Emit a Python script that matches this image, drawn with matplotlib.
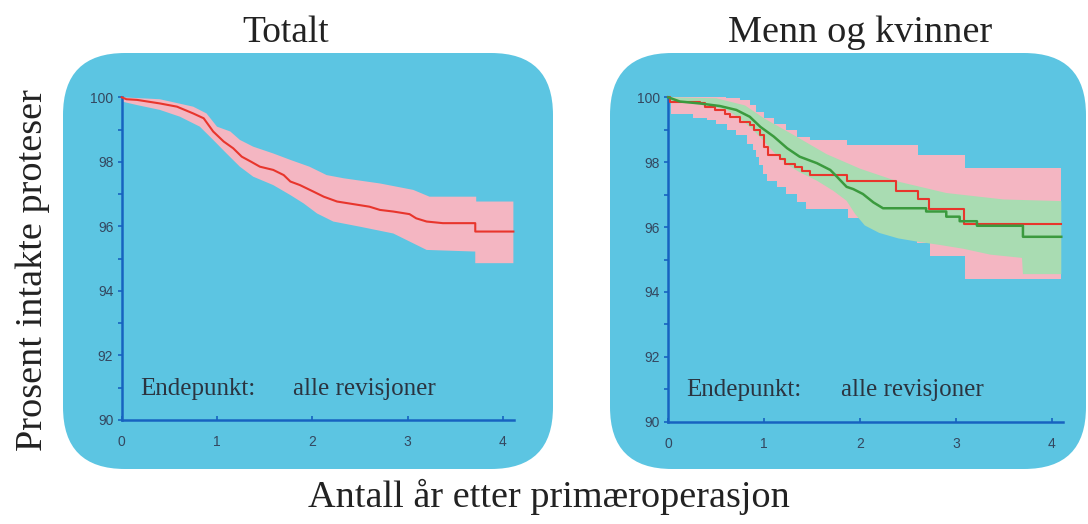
import numpy as np
import matplotlib
matplotlib.use("Agg")
import matplotlib.pyplot as plt
from matplotlib.patches import FancyBboxPatch

# ---------------- data ----------------
# Totalt: survival curve and confidence band (years, percent intact)
tot_x = [0, 0.05, 0.16, 0.40, 0.58, 0.75, 0.86, 0.96, 1.07, 1.17, 1.26, 1.36, 1.45, 1.59,
         1.70, 1.77, 1.87, 2.01, 2.12, 2.26, 2.43, 2.60, 2.71, 2.85, 3.02, 3.09, 3.20, 3.37,
         3.71, 3.71, 4.11]
tot_y = [100, 99.94, 99.92, 99.81, 99.71, 99.50, 99.35, 98.94, 98.63, 98.42, 98.16, 98.00,
         97.85, 97.75, 97.59, 97.39, 97.28, 97.08, 96.92, 96.77, 96.69, 96.61, 96.51, 96.46,
         96.38, 96.25, 96.15, 96.10, 96.10, 95.84, 95.84]
tot_hi_x = [0, 0.40, 0.75, 0.89, 1.00, 1.14, 1.24, 1.38, 1.59, 1.77, 1.97, 2.15, 2.33, 2.71,
            3.06, 3.23, 3.72, 3.72, 4.11]
tot_hi_y = [100, 99.94, 99.71, 99.50, 99.09, 98.94, 98.68, 98.47, 98.26, 98.06, 97.85, 97.59,
            97.49, 97.33, 97.13, 96.92, 96.92, 96.77, 96.77]
tot_lo_x = [0, 0.16, 0.40, 0.61, 0.82, 0.96, 1.10, 1.24, 1.38, 1.59, 1.77, 1.91, 2.05, 2.22,
            2.50, 2.85, 3.20, 3.71, 3.71, 4.11]
tot_lo_y = [99.87, 99.76, 99.61, 99.40, 99.09, 98.68, 98.26, 97.85, 97.54, 97.28, 96.97,
            96.71, 96.40, 96.15, 95.99, 95.78, 95.27, 95.22, 94.86, 94.86]

# Menn og kvinner: red group (step function) with pink band
red_t = [0, 0.02, 0.33, 0.38, 0.49, 0.59, 0.64, 0.75, 0.85, 0.89, 0.96, 1.00, 1.04, 1.17,
         1.22, 1.32, 1.40, 1.48, 1.86, 2.38, 2.61, 2.72, 3.09, 4.10]
red_s = [100, 99.87, 99.81, 99.71, 99.61, 99.50, 99.38, 99.24, 99.14, 98.98, 98.83, 98.47,
         98.21, 98.10, 97.95, 97.84, 97.74, 97.59, 97.43, 97.12, 96.86, 96.55, 96.08, 96.08]
red_hi_t = [0, 0.60, 0.75, 0.85, 0.92, 1.00, 1.10, 1.23, 1.34, 1.48, 1.86, 2.60, 3.10, 4.10]
red_hi = [100, 99.97, 99.92, 99.76, 99.55, 99.35, 99.19, 98.98, 98.78, 98.67, 98.52, 98.22,
          97.81, 97.81]
red_lo_t = [0, 0.03, 0.26, 0.40, 0.50, 0.61, 0.71, 0.82, 0.88, 0.92, 0.95, 0.99, 1.03, 1.13,
            1.23, 1.34, 1.44, 1.88, 2.59, 2.73, 3.10, 4.10]
red_lo = [99.87, 99.50, 99.35, 99.30, 99.19, 98.98, 98.83, 98.57, 98.38, 98.16, 97.90, 97.65,
          97.43, 97.22, 97.02, 96.76, 96.55, 96.29, 95.50, 95.12, 94.40, 94.40]

# green group with green band
green_x = [0, 0.12, 0.33, 0.54, 0.71, 0.85, 0.96, 1.10, 1.24, 1.37, 1.55, 1.69, 1.76, 1.86,
           1.93, 2.03, 2.14, 2.24, 2.69, 2.69, 2.90, 2.90, 3.04, 3.04, 3.22, 3.22, 3.70, 3.70,
           4.10]
green_y = [100, 99.87, 99.81, 99.73, 99.61, 99.40, 99.09, 98.79, 98.43, 98.17, 97.97, 97.76,
           97.55, 97.24, 97.17, 97.02, 96.76, 96.58, 96.58, 96.48, 96.48, 96.32, 96.32, 96.18,
           96.18, 96.04, 96.04, 95.70, 95.70]
green_hi_x = [0, 0.5, 0.8, 1.0, 1.3, 1.65, 2.0, 2.4, 2.9, 3.5, 4.1]
green_hi_y = [100, 99.97, 99.75, 99.35, 98.85, 98.25, 97.80, 97.40, 97.05, 96.85, 96.80]
green_lo_x = [0, 0.03, 0.40, 0.61, 0.75, 0.89, 0.99, 1.10, 1.23, 1.37, 1.55, 1.72, 1.86, 1.95,
              2.05, 2.20, 2.40, 2.60, 2.83, 3.08, 3.36, 3.69, 3.70, 4.10]
green_lo_y = [100, 99.87, 99.76, 99.61, 99.35, 98.98, 98.67, 98.31, 97.95, 97.69, 97.43,
              97.12, 96.81, 96.40, 96.05, 95.82, 95.65, 95.55, 95.45, 95.33, 95.15, 95.05,
              94.55, 94.55]

x_ticks = [0, 1, 2, 3, 4]
y_ticks = [90, 92, 94, 96, 98, 100]
titles = ["Totalt", "Menn og kvinner"]
note_left = "Endepunkt:"
note_right = "alle revisjoner"
ylabel = "Prosent intakte proteser"
xlabel = "Antall år etter primæroperasjon"

# ---------------- style ----------------
W, H = 1088, 524
PANEL = "#5cc5e2"
PINK = "#f4b6c2"
GREEN_BAND = "#a9dcb2"
RED = "#e8352c"
GREEN = "#3b9a3e"
AXIS = "#1763c0"
TICKTXT = "#34475f"
TXT = "#2b3440"
SERIF = ["Liberation Serif", "DejaVu Serif"]
NARROW = ["Liberation Sans Narrow", "Liberation Sans", "DejaVu Sans"]


def step_path(t, v):
    xs, ys = [], []
    for i in range(len(t)):
        if i > 0:
            xs.append(t[i]); ys.append(v[i - 1])
        xs.append(t[i]); ys.append(v[i])
    return np.array(xs), np.array(ys)


fig = plt.figure(figsize=(W / 100, H / 100), dpi=100)
fig.patch.set_facecolor("white")

# rounded panel backgrounds in pixel coordinates
bg = fig.add_axes([0, 0, 1, 1])
bg.set_xlim(0, W)
bg.set_ylim(H, 0)
bg.axis("off")
for x0, x1 in [(63, 553), (610, 1086)]:
    bg.add_patch(FancyBboxPatch((x0, 53), x1 - x0, 416,
                                boxstyle="round,pad=0,rounding_size=62",
                                facecolor=PANEL, edgecolor="none"))


def make_axes(left_px, x_unit_px, top_px, bottom_px):
    xmax = 4.12
    rect = [left_px / W, 1 - bottom_px / H, xmax * x_unit_px / W, (bottom_px - top_px) / H]
    ax = fig.add_axes(rect)
    ax.set_facecolor("none")
    ax.set_xlim(0, xmax)
    ax.set_ylim(90, 100)
    for s in ["top", "right"]:
        ax.spines[s].set_visible(False)
    for s in ["left", "bottom"]:
        ax.spines[s].set_color(AXIS)
        ax.spines[s].set_linewidth(1.8)
    ax.set_xticks(x_ticks)
    ax.set_yticks(y_ticks)
    ax.set_yticks(np.arange(91, 100, 2), minor=True)
    ax.tick_params(axis="y", which="both", direction="out", length=3, width=1.2,
                   color=AXIS, pad=3, labelsize=10, labelcolor=TICKTXT)
    ax.tick_params(axis="x", direction="in", length=3, width=1.2, color=AXIS,
                   pad=11, labelsize=10, labelcolor=TICKTXT)
    for lab in ax.get_xticklabels() + ax.get_yticklabels():
        lab.set_fontfamily(NARROW)
    ax.text(0.19, 90.78, note_left, family=SERIF, fontsize=18, color=TXT)
    ax.text(1.80, 90.78, note_right, family=SERIF, fontsize=18, color=TXT)
    return ax


# left panel: Totalt
axL = make_axes(121.7, 95.3, 97.3, 420.0)
axL.fill(np.concatenate([tot_hi_x, tot_lo_x[::-1]]),
         np.concatenate([tot_hi_y, tot_lo_y[::-1]]),
         facecolor=PINK, edgecolor="none", zorder=1)
axL.plot(tot_x, tot_y, color=RED, lw=1.5, zorder=3, clip_on=False)

# right panel: Menn og kvinner
axR = make_axes(668.3, 95.85, 97.3, 421.7)
hx, hy = step_path(red_hi_t, red_hi)
lx, ly = step_path(red_lo_t, red_lo)
axR.fill(np.concatenate([hx, lx[::-1]]), np.concatenate([hy, ly[::-1]]),
         facecolor=PINK, edgecolor="none", zorder=1)
axR.fill(np.concatenate([green_hi_x, green_lo_x[::-1]]),
         np.concatenate([green_hi_y, green_lo_y[::-1]]),
         facecolor=GREEN_BAND, edgecolor="none", zorder=2)
rx, ry = step_path(red_t, red_s)
axR.plot(rx, ry, color=RED, lw=1.5, zorder=3, clip_on=False)
axR.plot(green_x, green_y, color=GREEN, lw=1.8, zorder=4, clip_on=False)

# titles and shared axis labels
fig.text(285.7 / W, 1 - 41.7 / H, titles[0], ha="center", va="baseline",
         family=SERIF, fontsize=27, color="#222222")
fig.text(860 / W, 1 - 41.7 / H, titles[1], ha="center", va="baseline",
         family=SERIF, fontsize=27.5, color="#222222")
fig.text(549 / W, 1 - 507 / H, xlabel, ha="center", va="baseline",
         family=SERIF, fontsize=27.5, color="#222222")
fig.text(33 / W, 1 - 270 / H, ylabel, ha="center", va="center", rotation=90,
         family=SERIF, fontsize=27.5, color="#222222")

fig.savefig("out.png", dpi=100)
